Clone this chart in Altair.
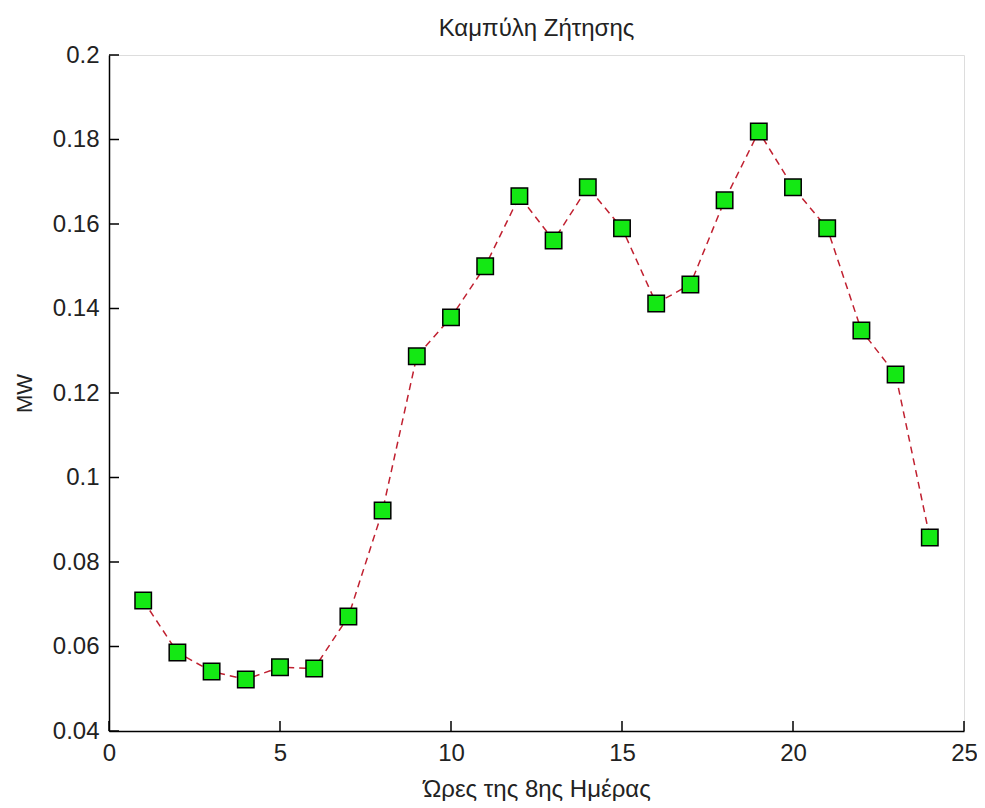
import altair as alt
import pandas as pd

hours = list(range(1, 25))
demand = [0.0709, 0.0586, 0.0541, 0.0522, 0.0551, 0.0548, 0.0671, 0.0922,
          0.1287, 0.1379, 0.1500, 0.1666, 0.1561, 0.1687, 0.1590, 0.1412,
          0.1457, 0.1656, 0.1819, 0.1687, 0.1590, 0.1348, 0.1244, 0.0858]
x_ticks = [0, 5, 10, 15, 20, 25]
y_ticks = [0.04, 0.06, 0.08, 0.1, 0.12, 0.14, 0.16, 0.18, 0.2]

title = "Καμπύλη Ζήτησης"
x_title = "Ώρες της 8ης Ημέρας"
y_title = "MW"

df = pd.DataFrame({"hour": hours, "mw": demand})
xt = pd.DataFrame({"t": x_ticks})
yt = pd.DataFrame({"t": y_ticks})

W, H = 855, 676
FONT = "Liberation Sans"

xs = alt.Scale(domain=[0, 25], nice=False, zero=False)
ys = alt.Scale(domain=[0.04, 0.2], nice=False, zero=False)

xaxis = alt.Axis(values=x_ticks, title=x_title, grid=False, ticks=False,
                 domainColor="black", domainWidth=1.5, labelFontSize=24,
                 labelFont=FONT, labelColor="#222", labelPadding=10,
                 titleFont=FONT, titleFontSize=24, titleFontWeight="normal",
                 titleColor="#222", titlePadding=12, labelFlush=False)
yaxis = alt.Axis(values=y_ticks, title=y_title, grid=False, ticks=False,
                 domainColor="black", domainWidth=1.5, labelFontSize=24,
                 labelFont=FONT, labelColor="#222", labelPadding=10,
                 format="~g",
                 titleFont=FONT, titleFontSize=22, titleFontWeight="normal",
                 titleColor="#222", titlePadding=16, labelFlush=False)

line = alt.Chart(df).mark_line(color="#c02030", strokeWidth=1.5,
                               strokeDash=[7, 5]).encode(
    x=alt.X("hour:Q", scale=xs, axis=xaxis),
    y=alt.Y("mw:Q", scale=ys, axis=yaxis),
)
pts = alt.Chart(df).mark_point(shape="square", filled=True, fill="#14e814",
                               stroke="black", strokeWidth=1.5, size=270,
                               opacity=1).encode(
    x=alt.X("hour:Q", scale=xs),
    y=alt.Y("mw:Q", scale=ys),
)
xtick = alt.Chart(xt).mark_rule(color="black", strokeWidth=1.5).encode(
    x=alt.X("t:Q", scale=xs),
    y=alt.value(H), y2=alt.value(H - 10),
)
ytick = alt.Chart(yt).mark_rule(color="black", strokeWidth=1.5).encode(
    y=alt.Y("t:Q", scale=ys),
    x=alt.value(0), x2=alt.value(10),
)

chart = alt.layer(line, pts, xtick, ytick).properties(
    width=W, height=H,
    title=alt.Title(title, font=FONT, fontSize=24, fontWeight="normal",
                    color="#222", anchor="middle", offset=2),
    autosize=alt.AutoSizeParams(type="none"),
    padding={"left": 101, "top": 47, "right": 13, "bottom": 70},
).configure_view(stroke=None).configure(background="white")

chart.save("out.html", embed_options={"renderer": "svg", "actions": False})
